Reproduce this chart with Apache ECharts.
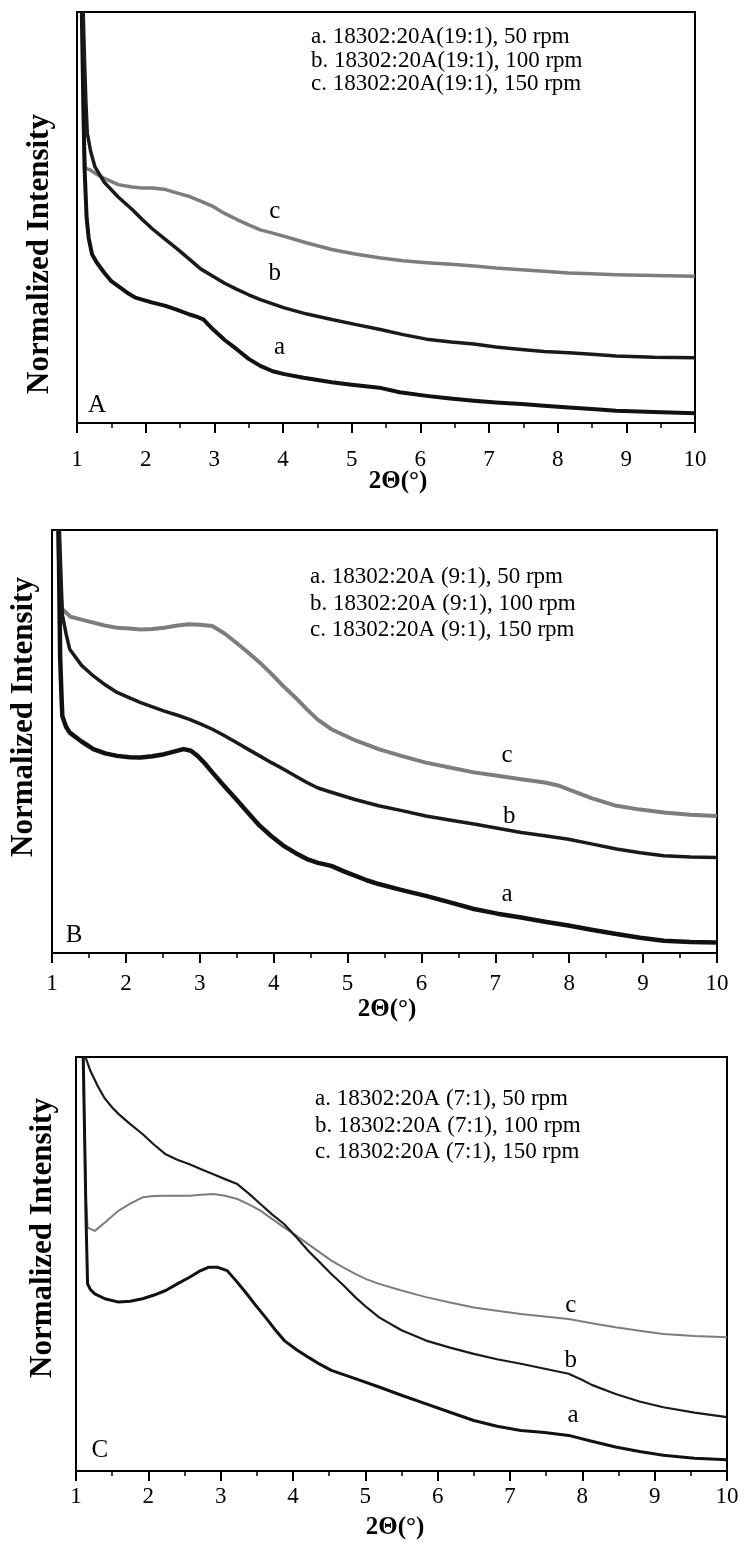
<!DOCTYPE html>
<html><head><meta charset="utf-8">
<script src="https://cdn.jsdelivr.net/npm/echarts@6/dist/echarts.min.js"></script>
<style>html,body{margin:0;padding:0;background:#fff}#c{width:744px;height:1551px}</style>
</head><body><div id="c"></div><script>
// ---- data (x = 2Theta in degrees, y = normalized intensity, 0..100 of panel height)
const xTickLabels = ['1','2','3','4','5','6','7','8','9','10'];
const legendA = ['a. 18302:20A(19:1), 50 rpm','b. 18302:20A(19:1), 100 rpm','c. 18302:20A(19:1), 150 rpm'];
const legendB = ['a. 18302:20A (9:1), 50 rpm','b. 18302:20A (9:1), 100 rpm','c. 18302:20A (9:1), 150 rpm'];
const legendC = ['a. 18302:20A (7:1), 50 rpm','b. 18302:20A (7:1), 100 rpm','c. 18302:20A (7:1), 150 rpm'];
const panelNames = ['A','B','C'];
const panelLetterPos = [[1.29,4.2],[1.3,4.1],[1.33,5]];
const curveLabelsA = [[3.88,51.5,'c'],[3.88,36.5,'b'],[3.95,18.4,'a']];
const curveLabelsB = [[7.16,46.6,'c'],[7.19,32.4,'b'],[7.16,13.9,'a']];
const curveLabelsC = [[7.84,40,'c'],[7.84,26.7,'b'],[7.87,13.4,'a']];

const A_a = [[1.07,100],[1.09,80],[1.11,62],[1.14,50],[1.17,45],[1.22,41],[1.29,39],[1.4,36.5],[1.5,34.5],[1.6,33.3],[1.75,31.5],[1.85,30.5],[1.95,30],[2.1,29.3],[2.29,28.5],[2.45,27.6],[2.64,26.4],[2.75,25.8],[2.84,25.2],[2.98,22.8],[3.15,20.2],[3.33,17.9],[3.5,15.6],[3.67,13.9],[3.85,12.6],[4.02,11.9],[4.3,11],[4.71,9.9],[5.0,9.3],[5.4,8.6],[5.7,7.5],[6.09,6.6],[6.4,6],[6.78,5.4],[7.1,5],[7.47,4.6],[7.8,4.2],[8.16,3.8],[8.5,3.4],[8.85,3.0],[9.4,2.7],[10,2.4]];
const A_b = [[1.09,100],[1.11,88],[1.13,78],[1.15,70.5],[1.2,66],[1.26,62.4],[1.4,58.5],[1.6,55],[1.8,52],[1.95,49.5],[2.1,47.2],[2.29,44.6],[2.45,42.5],[2.64,39.8],[2.8,37.5],[2.98,35.7],[3.15,34],[3.33,32.5],[3.5,31.2],[3.67,30],[3.85,29],[4.02,28],[4.35,26.5],[4.71,25.2],[5.05,24],[5.4,22.8],[5.75,21.5],[6.09,20.4],[6.45,19.7],[6.78,19.2],[7.1,18.5],[7.47,17.9],[7.8,17.4],[8.16,17.1],[8.5,16.7],[8.85,16.3],[9.4,16],[10,15.9]];
const A_c = [[1.08,100],[1.09,85],[1.1,68],[1.12,62],[1.2,61.5],[1.26,60.8],[1.4,59.5],[1.6,58],[1.8,57.4],[1.95,57.2],[2.1,57.2],[2.29,56.8],[2.45,56],[2.64,55.1],[2.8,54],[2.98,52.7],[3.15,51],[3.33,49.5],[3.5,48.2],[3.67,47],[3.85,46.2],[4.02,45.4],[4.35,43.8],[4.71,42.2],[5.05,41.1],[5.4,40.2],[5.75,39.5],[6.09,39],[6.45,38.6],[6.78,38.2],[7.1,37.7],[7.47,37.3],[7.8,36.9],[8.16,36.5],[8.5,36.3],[8.85,36.1],[9.4,35.9],[10,35.7]];

const B_a = [[1.09,100],[1.1,85],[1.11,70],[1.13,60],[1.14,56],[1.19,53.5],[1.24,52.1],[1.4,50],[1.56,48.2],[1.72,47.2],[1.88,46.6],[2.05,46.3],[2.2,46.2],[2.36,46.5],[2.52,47],[2.65,47.6],[2.78,48.2],[2.88,47.8],[2.97,46.6],[3.07,44.8],[3.17,42.7],[3.33,39.5],[3.49,36.4],[3.65,33.2],[3.81,30.1],[3.97,27.6],[4.13,25.4],[4.3,23.6],[4.45,22.2],[4.6,21.3],[4.78,20.6],[4.95,19.3],[5.1,18.3],[5.26,17.2],[5.42,16.3],[5.75,14.8],[6.06,13.5],[6.4,11.9],[6.71,10.4],[7.03,9.3],[7.35,8.4],[7.67,7.4],[7.99,6.5],[8.3,5.5],[8.64,4.5],[8.96,3.6],[9.28,2.9],[9.64,2.6],[10,2.5]];
const B_b = [[1.1,100],[1.12,90],[1.14,80],[1.19,75.5],[1.24,71.8],[1.4,68],[1.56,65.5],[1.72,63.4],[1.88,61.6],[2.05,60.3],[2.2,59.2],[2.36,58.2],[2.52,57.2],[2.7,56.2],[2.85,55.3],[3.0,54.2],[3.17,52.9],[3.33,51.4],[3.49,49.8],[3.65,48.2],[3.81,46.6],[3.97,45],[4.13,43.5],[4.3,41.8],[4.45,40.3],[4.6,39],[4.78,38],[5.1,36.3],[5.42,34.8],[5.75,33.6],[6.06,32.4],[6.4,31.4],[6.71,30.5],[7.03,29.5],[7.35,28.5],[7.67,27.7],[7.99,26.9],[8.3,25.8],[8.64,24.6],[8.96,23.7],[9.28,23],[9.64,22.7],[10,22.6]];
const B_c = [[1.08,100],[1.1,90],[1.12,84],[1.14,81.3],[1.25,79.5],[1.4,78.8],[1.56,78.1],[1.72,77.4],[1.88,76.9],[2.05,76.7],[2.2,76.5],[2.36,76.6],[2.52,76.9],[2.7,77.4],[2.85,77.7],[3.0,77.6],[3.17,77.3],[3.33,75.6],[3.49,73.4],[3.65,71.1],[3.81,68.7],[3.97,66],[4.13,63.1],[4.3,60.3],[4.45,57.6],[4.6,55.1],[4.78,52.9],[5.1,50.3],[5.42,48.2],[5.75,46.5],[6.06,45],[6.4,43.8],[6.71,42.7],[7.03,41.9],[7.35,41.1],[7.67,40.3],[7.85,39.6],[7.99,38.7],[8.3,36.6],[8.64,34.8],[8.96,33.9],[9.28,33.2],[9.64,32.7],[10,32.4]];

const C_a = [[1.1,100],[1.12,80],[1.14,60],[1.16,45.2],[1.2,43.8],[1.26,42.8],[1.4,41.6],[1.59,40.8],[1.75,41],[1.92,41.6],[2.08,42.5],[2.24,43.6],[2.4,45.2],[2.57,46.8],[2.7,48.2],[2.83,49.2],[2.96,49.2],[3.09,48.4],[3.22,45.8],[3.36,42.8],[3.49,39.9],[3.62,37.1],[3.75,34.2],[3.88,31.5],[4.05,29.3],[4.21,27.5],[4.37,25.8],[4.53,24.3],[4.86,22.3],[5.19,20.3],[5.5,18.3],[5.84,16.2],[6.17,14.2],[6.5,12.2],[6.82,10.8],[7.15,9.8],[7.48,9.3],[7.81,8.6],[8.13,7.2],[8.46,5.8],[8.79,4.7],[9.12,3.8],[9.55,3.1],[10,2.7]];
const C_b = [[1.13,100],[1.2,96.6],[1.3,93],[1.39,90.2],[1.5,87.8],[1.59,86.2],[1.75,83.8],[1.92,81.4],[2.08,78.8],[2.24,76.5],[2.4,75.2],[2.57,74.1],[2.73,72.9],[2.9,71.7],[3.06,70.5],[3.23,69.3],[3.39,67],[3.55,64.5],[3.71,62],[3.88,59.6],[4.05,56.4],[4.21,53.2],[4.37,50.4],[4.53,47.6],[4.7,44.8],[4.86,42],[5.02,39.5],[5.19,37.1],[5.5,34],[5.84,31.5],[6.17,29.8],[6.5,28.3],[6.82,27],[7.15,25.9],[7.48,24.7],[7.81,23.5],[8.0,22],[8.13,20.8],[8.46,18.6],[8.79,16.8],[9.12,15.4],[9.55,14.1],[10,13]];
const C_c = [[1.1,100],[1.12,80],[1.14,65],[1.16,58.8],[1.26,58],[1.4,60],[1.59,62.9],[1.75,64.6],[1.92,66.1],[2.08,66.4],[2.24,66.5],[2.4,66.5],[2.57,66.5],[2.73,66.7],[2.9,66.9],[3.06,66.5],[3.23,65.7],[3.39,64.4],[3.55,62.9],[3.71,60.9],[3.88,58.8],[4.05,56.8],[4.21,54.8],[4.37,52.8],[4.53,50.8],[4.7,49.1],[4.86,47.6],[5.02,46.3],[5.19,45.2],[5.5,43.6],[5.84,42],[6.17,40.7],[6.5,39.5],[6.82,38.7],[7.15,37.9],[7.48,37.3],[7.81,36.7],[8.13,35.7],[8.46,34.7],[8.79,33.9],[9.12,33.1],[9.55,32.6],[10,32.3]];

// ---- layout
const SERIF = '"Liberation Serif", "Times New Roman", serif';
const grids = [
  {left:77, top:12, width:618, height:411},
  {left:52, top:530, width:665, height:423},
  {left:76, top:1057, width:651, height:414}
];
const labelMargins = [25, 19, 14];
const panels = [
  {curves:[A_a,A_b,A_c], widths:[4,3.5,3.5], labels:curveLabelsA, legend:legendA, legendPos:[311,37,23.5], yTitle:[40,254], xTitle:[398,482]},
  {curves:[B_a,B_b,B_c], widths:[4.5,3.5,4], labels:curveLabelsB, legend:legendB, legendPos:[310,577,26.5], yTitle:[24,717], xTitle:[387,1010]},
  {curves:[C_a,C_b,C_c], widths:[3,2.2,2], labels:curveLabelsC, legend:legendC, legendPos:[315,1099,26.5], yTitle:[43,1238], xTitle:[395,1528]}
];
const colors = ['#111','#1a1a1a','#7d7d7d'];

const option = {
  animation:false,
  backgroundColor:'#fff',
  grid: grids.map(g => Object.assign({show:true, borderColor:'#000', borderWidth:2, backgroundColor:'transparent'}, g)),
  xAxis: grids.map((g,i) => ({
    type:'value', gridIndex:i, min:1, max:10, interval:1,
    axisLine:{show:true, onZero:false, lineStyle:{color:'#000', width:2}},
    axisTick:{show:true, inside:false, length:10, lineStyle:{color:'#000', width:2}},
    minorTick:{show:true, splitNumber:2, length:5, lineStyle:{color:'#000', width:1.5}},
    splitLine:{show:false},
    axisLabel:{color:'#000', fontFamily:SERIF, fontSize:23, margin:labelMargins[i],
      formatter: v => xTickLabels[Math.round(v)-1] ?? ''}
  })),
  yAxis: grids.map((g,i) => ({
    type:'value', gridIndex:i, min:0, max:100,
    axisLine:{show:true, lineStyle:{color:'#000', width:2}},
    axisTick:{show:false}, axisLabel:{show:false}, splitLine:{show:false}
  })),
  series: [],
  graphic: []
};

panels.forEach((p,i) => {
  p.curves.forEach((d,k) => {
    option.series.push({
      type:'line', xAxisIndex:i, yAxisIndex:i, data:d, showSymbol:false, symbol:'none',
      clip:true, z: k===2 ? 2 : 3,
      lineStyle:{color:colors[k], width:p.widths[k], join:'round'}
    });
  });
  option.series.push({
    type:'scatter', xAxisIndex:i, yAxisIndex:i, symbol:'circle', symbolSize:0.1,
    itemStyle:{color:'#fff', opacity:1},
    data: p.labels.concat([[panelLetterPos[i][0], panelLetterPos[i][1], panelNames[i]]]),
    label:{show:true, position:'inside', formatter: q => q.data[2], color:'#000', opacity:1,
      textBorderWidth:0, fontFamily:SERIF, fontSize:25},
    emphasis:{disabled:true}, silent:true, z:5
  });
  p.legend.forEach((t,k) => {
    option.graphic.push({type:'text', x:p.legendPos[0], y:p.legendPos[1] + k*p.legendPos[2],
      style:{text:t, font:'23px ' + SERIF, fill:'#000', verticalAlign:'middle', align:'left'}});
  });
  option.graphic.push({type:'text', x:p.yTitle[0], y:p.yTitle[1], rotation:Math.PI/2,
    style:{text:'Normalized Intensity', font:'bold 31px ' + SERIF, fill:'#000', align:'center', verticalAlign:'middle'}});
  option.graphic.push({type:'text', x:p.xTitle[0], y:p.xTitle[1],
    style:{text:'2\u0398(\u00B0)', font:'bold 25px ' + SERIF, fill:'#000', align:'center', verticalAlign:'middle'}});
});

const chart = echarts.init(document.getElementById('c'), null, {renderer:'canvas'});
chart.setOption(option);
</script></body></html>
